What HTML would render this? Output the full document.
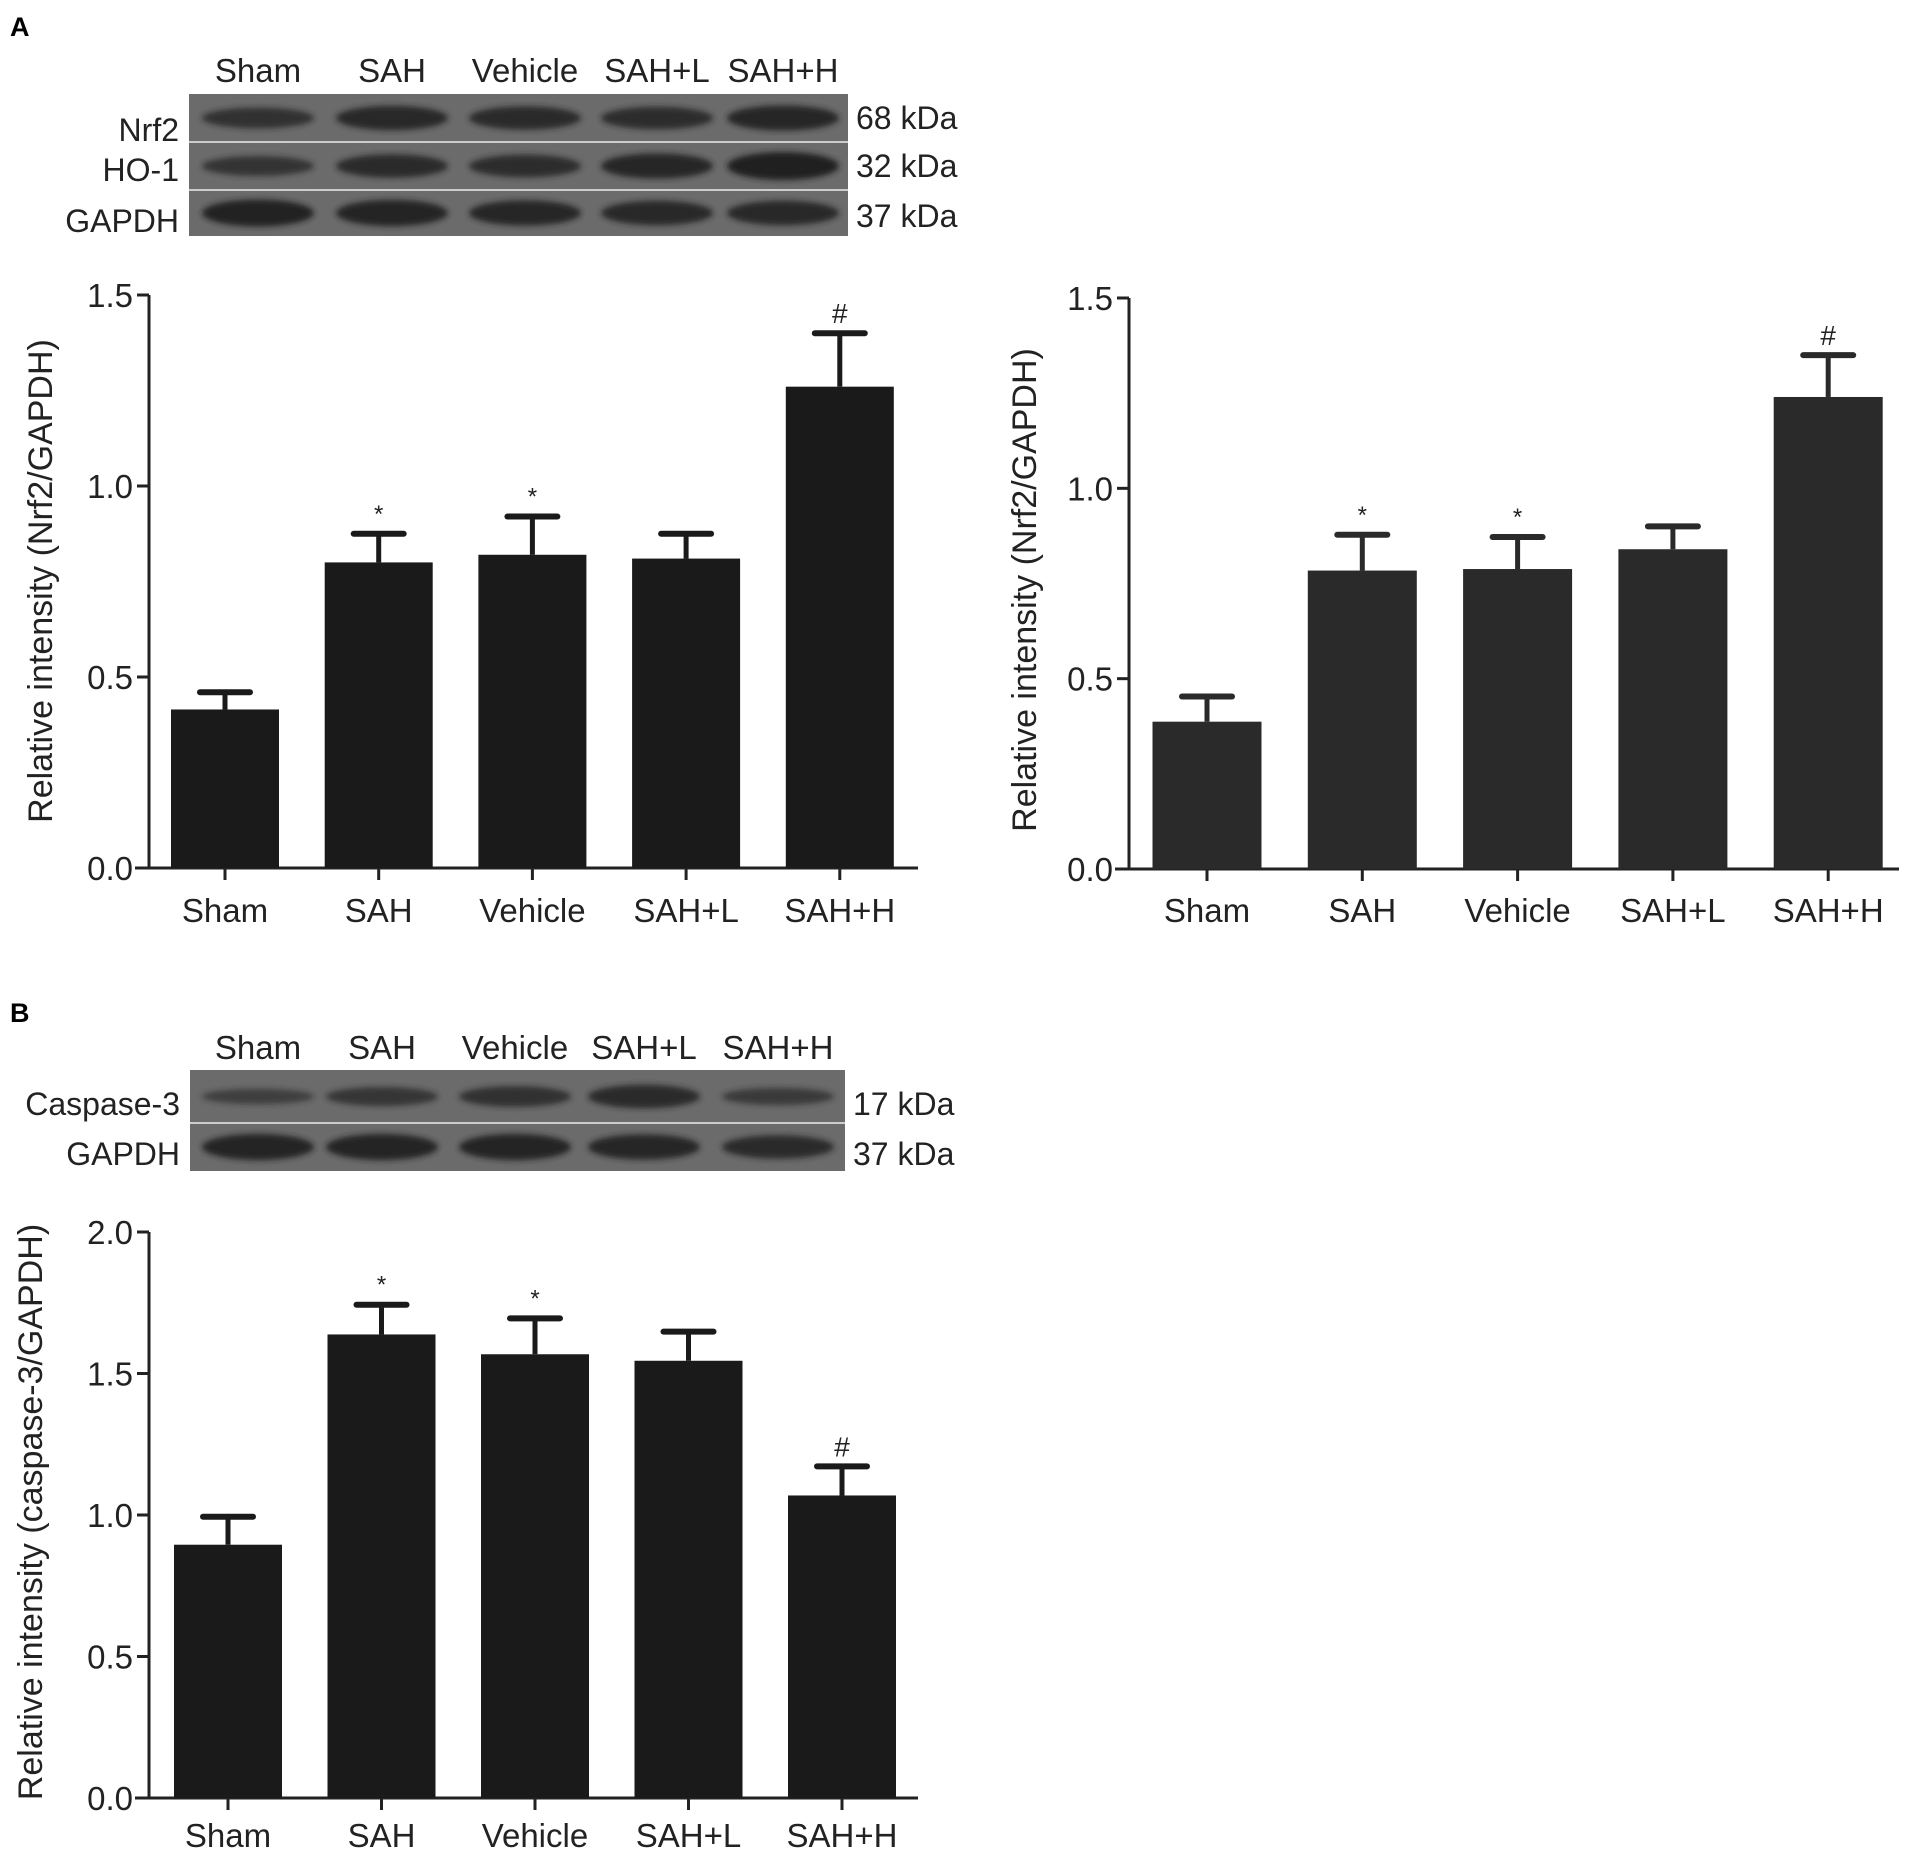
<!DOCTYPE html>
<html><head><meta charset="utf-8"><style>
html,body{margin:0;padding:0;background:#fff;}
svg{display:block;font-family:"Liberation Sans",Arial,sans-serif;}
</style></head><body>
<svg id="fig" width="1913" height="1859" viewBox="0 0 1913 1859" xmlns="http://www.w3.org/2000/svg">
<defs><filter id="blur" x="-20%" y="-100%" width="140%" height="300%"><feGaussianBlur stdDeviation="3"/></filter></defs>
<text x="10" y="36" font-size="27" font-weight="bold">A</text>
<text x="10" y="1022" font-size="27" font-weight="bold">B</text>
<g id="blotA"></g>
<g id="blotB"></g>
<g id="chartA1"></g>
<g id="chartA2"></g>
<g id="chartB"></g>
</svg>
<script>
const categories = ["Sham","SAH","Vehicle","SAH+L","SAH+H"];
const a1Values = [0.415,0.80,0.82,0.81,1.26];
const a1Errors = [0.045,0.075,0.10,0.065,0.14];
const a1Marks = ["","*","*","","#"];
const a2Values = [0.387,0.784,0.788,0.84,1.24];
const a2Errors = [0.066,0.094,0.084,0.06,0.11];
const a2Marks = ["","*","*","","#"];
const bValues = [0.895,1.638,1.568,1.545,1.069];
const bErrors = [0.099,0.105,0.127,0.103,0.103];
const bMarks = ["","*","*","","#"];
const a1Ticks = [0,0.5,1.0,1.5];
const a2Ticks = [0,0.5,1.0,1.5];
const bTicks = [0,0.5,1.0,1.5,2.0];
const bandsA = [[0.6,0.8,0.75,0.7,0.85],[0.55,0.75,0.7,0.85,1.0],[0.95,0.9,0.85,0.8,0.8]];
const bandsB = [[0.3,0.5,0.6,0.75,0.4],[0.9,0.9,0.9,0.85,0.75]];

const NS="http://www.w3.org/2000/svg";
function mk(tag,attrs,parent,text){const e=document.createElementNS(NS,tag);for(const k in attrs)e.setAttribute(k,attrs[k]);if(text!==undefined)e.textContent=text;parent.appendChild(e);return e;}

function chart(g,o,values,errors,marks,ticks,title,name){
  const y=v=>o.y0-(v/o.max)*(o.y0-o.yTop);
  const x=i=>o.xc0+i*o.step;
  const yl=mk('line',{x1:o.ax,y1:o.yTop,x2:o.ax,y2:o.y0,stroke:'#222','stroke-width':3},g);
  
  
  const xl=mk('line',{x1:o.ax-14,y1:o.y0,x2:o.xEnd,y2:o.y0,stroke:'#222','stroke-width':3},g);
  
  
  ticks.forEach(t=>{
    const tk=mk('line',{x1:o.ax-12,y1:y(t),x2:o.ax,y2:y(t),stroke:'#222','stroke-width':3},g);
    
    
    const tl=mk('text',{x:o.ax-16,y:y(t)+12,'font-size':33,'text-anchor':'end',fill:'#222'},g,t.toFixed(1));
    
    
  });
  const tt=mk('text',{x:0,y:0,'font-size':34,'text-anchor':'middle',fill:'#222',transform:`translate(${o.titleX},${o.titleY}) rotate(-90)`},g,title);
  
  
  values.forEach((v,i)=>{
    const cx=x(i);
    const b=mk('rect',{x:cx-o.bw/2,y:y(v),width:o.bw,height:o.y0-y(v),fill:o.color},g);
    
    
    const et=y(v+errors[i]);
    const el=mk('line',{x1:cx,y1:y(v),x2:cx,y2:et,stroke:o.color,'stroke-width':5},g);
    
    
    const ec=mk('line',{x1:cx-25,y1:et,x2:cx+25,y2:et,stroke:o.color,'stroke-width':6,'stroke-linecap':'round'},g);
    
    
    if(marks[i]){
      const m=mk('text',{x:cx,y:marks[i]==='#'?et-10:et-12,'font-size':marks[i]==='#'?28:24,'text-anchor':'middle',fill:'#222'},g,marks[i]);
      
      
    }
    const xt=mk('line',{x1:cx,y1:o.y0,x2:cx,y2:o.y0+12,stroke:'#222','stroke-width':3},g);
    
    
    const xlab=mk('text',{x:cx,y:o.labelY,'font-size':33,'text-anchor':'middle',fill:'#222'},g,categories[i]);
    
    
  });
}

chart(document.getElementById('chartA1'),{ax:149,xEnd:918,yTop:295,y0:868,max:1.5,xc0:225,step:153.7,bw:108,color:'#1a1a1a',labelY:922,titleX:52,titleY:581},a1Values,a1Errors,a1Marks,a1Ticks,'Relative intensity (Nrf2/GAPDH)');
chart(document.getElementById('chartA2'),{ax:1129,xEnd:1899,yTop:298,y0:869,max:1.5,xc0:1207,step:155.3,bw:109,color:'#2a2a2a',labelY:922,titleX:1036,titleY:590},a2Values,a2Errors,a2Marks,a2Ticks,'Relative intensity (Nrf2/GAPDH)');
chart(document.getElementById('chartB'),{ax:149,xEnd:918,yTop:1232,y0:1798,max:2.0,xc0:228,step:153.5,bw:108,color:'#1a1a1a',labelY:1847,titleX:42,titleY:1512},bValues,bErrors,bMarks,bTicks,'Relative intensity (caspase-3/GAPDH)');

function blot(g,x0,x1,top,rows,bands,rowLabels,kdas,laneXs,headerY){
  const bg=mk('rect',{x:x0,y:top,width:x1-x0,height:rows[rows.length-1][1]-top,fill:'#6b6b6b'},g);
  
  
  rows.forEach((r,ri)=>{
    if(ri>0){
      const d=mk('line',{x1:x0,y1:r[0],x2:x1,y2:r[0],stroke:'#ccc','stroke-width':2},g);
      
      
    }
    const cy=(r[0]+r[1])/2;
    bands[ri].forEach((intens,li)=>{
      const e=mk('ellipse',{cx:laneXs[li],cy:cy,rx:56,ry:5+intens*9,fill:'#1c1c1c',opacity:0.4+intens*0.55,filter:'url(#blur)'},g);
      
      
    });
    const l=mk('text',{x:x0-10,y:rowLabels[ri][1],'font-size':32,'text-anchor':'end',fill:'#222'},g,rowLabels[ri][0]);
    
    
    const k=mk('text',{x:x1+8,y:rowLabels[ri][2],'font-size':32,fill:'#222'},g,kdas[ri]);
    
    
  });
  categories.forEach((c,i)=>{
    const h=mk('text',{x:laneXs[i],y:headerY,'font-size':33,'text-anchor':'middle',fill:'#222'},g,c);
    
    
  });
}
blot(document.getElementById('blotA'),189,848,94,[[94,142],[142,190],[190,236]],bandsA,[['Nrf2',141,129],['HO-1',181,177],['GAPDH',232,227]],['68 kDa','32 kDa','37 kDa'],[258,392,525,657,783],82);
blot(document.getElementById('blotB'),190,845,1070,[[1070,1123],[1123,1171]],bandsB,[['Caspase-3',1115,1115],['GAPDH',1165,1165]],['17 kDa','37 kDa'],[258,382,515,644,778],1059);
</script>
</body></html>
